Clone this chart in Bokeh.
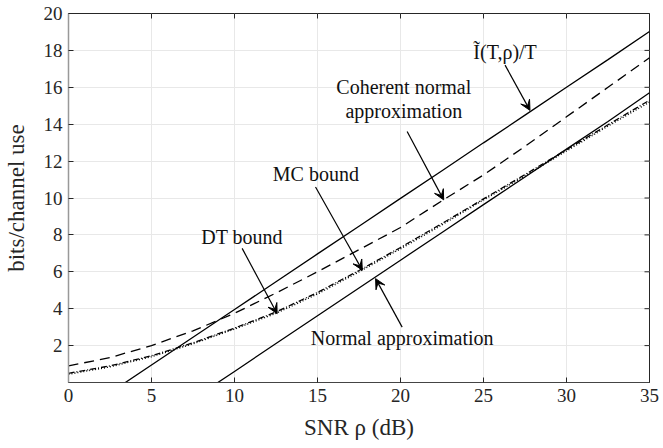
import math
from bokeh.plotting import figure
from bokeh.models import Range1d, FixedTicker, Arrow, VeeHead, Label
from bokeh.embed import file_html
from bokeh.resources import INLINE

# SNR grid (dB)
snr = [0, 2.5, 5, 7.5, 10, 12.5, 15, 17.5, 20, 22.5, 25, 27.5, 30, 32.5, 35]

# I~(T,rho)/T (solid)
i_tilde = [-2.07, -0.56, 0.95, 2.45, 3.96, 5.46, 6.97, 8.47, 9.98, 11.48, 12.99, 14.49, 16.0, 17.5, 19.02]
# Coherent normal approximation (dashed)
coherent = [0.9, 1.35, 2.0, 2.8, 3.75, 4.85, 6.0, 7.2, 8.4, 9.85, 11.25, 12.8, 14.4, 16.0, 17.6]
# MC bound (dash-dot)
mc_bound = [0.5, 0.9, 1.45, 2.15, 2.95, 3.82, 4.88, 6.07, 7.32, 8.62, 9.95, 11.27, 12.62, 13.97, 15.3]
# DT bound (dotted)
dt_bound = [0.45, 0.85, 1.4, 2.1, 2.9, 3.75, 4.8, 6.0, 7.25, 8.55, 9.9, 11.2, 12.55, 13.9, 15.2]
# Normal approximation (solid)
normal = [-5.42, -3.92, -2.41, -0.9, 0.6, 2.11, 3.62, 5.12, 6.63, 8.13, 9.64, 11.14, 12.65, 14.15, 15.7]

x_ticks = [0, 5, 10, 15, 20, 25, 30, 35]
y_ticks = [2, 4, 6, 8, 10, 12, 14, 16, 18, 20]

# annotations: text, text (x, y), arrow tail (x, y), arrow head (x, y)
ann_text = ["Ĩ(T,ρ)/T", "Coherent normal\napproximation", "MC bound", "DT bound", "Normal approximation"]
ann_tx = [26.3, 20.2, 14.9, 10.46, 20.1]
ann_ty = [17.9, 14.1, 11.3, 7.9, 2.43]
tail_x = [26.3, 20.4, 14.88, 10.46, 20.1]
tail_y = [17.2, 13.6, 10.6, 7.27, 3.0]
head_x = [27.8, 22.6, 17.7, 12.57, 18.5]
head_y = [14.75, 9.9, 6.09, 3.73, 5.63]

FONT = "Liberation Serif"
DARK = "#262626"

p = figure(frame_width=581, frame_height=369, output_backend="svg", toolbar_location=None,
           x_range=Range1d(0, 35), y_range=Range1d(0, 20),
           min_border_left=68, min_border_right=14, min_border_top=13, min_border_bottom=66,
           x_axis_label="SNR ρ (dB)", y_axis_label="bits/channel use")
p.outline_line_color = DARK
p.background_fill_color = "white"
p.border_fill_color = "white"

for ax, ticks in ((p.xaxis[0], x_ticks), (p.yaxis[0], y_ticks)):
    ax.ticker = FixedTicker(ticks=ticks)
    ax.major_tick_in = 5
    ax.major_tick_out = 0
    ax.minor_tick_in = 0
    ax.minor_tick_out = 0
    ax.major_label_text_font = FONT
    ax.major_label_text_font_size = "19px"
    ax.major_label_text_color = DARK
    ax.axis_label_text_font = FONT
    ax.axis_label_text_font_size = "23px"
    ax.axis_label_text_font_style = "normal"
    ax.axis_label_text_color = DARK
    ax.major_tick_line_color = DARK

p.xaxis.axis_line_color = "#444444"
p.yaxis.axis_line_color = "#999999"
p.yaxis.axis_line_width = 1.5
p.xaxis.major_label_standoff = 6
p.xaxis.axis_label_standoff = 10
p.yaxis.major_label_standoff = 6
p.yaxis.axis_label_standoff = 12

p.xgrid.ticker = FixedTicker(ticks=x_ticks)
p.ygrid.ticker = FixedTicker(ticks=y_ticks)
p.grid.grid_line_color = "#e8e8e8"
p.grid.grid_line_width = 1

# inward tick marks on the top and right edges of the box (half is clipped by the frame)
p.scatter(x_ticks, [20] * len(x_ticks), marker="dash", angle=math.pi / 2, size=10,
          line_color=DARK, line_width=1)
p.scatter([35] * len(y_ticks), y_ticks, marker="dash", size=10, line_color=DARK, line_width=1)

p.line(snr, i_tilde, line_color="black", line_width=1.3)
p.line(snr, coherent, line_color="black", line_width=1.3, line_dash="10 6")
p.line(snr, mc_bound, line_color="black", line_width=1.3, line_dash="6 2 1 2")
p.line(snr, dt_bound, line_color="black", line_width=1.5, line_dash="1 2")
p.line(snr, normal, line_color="black", line_width=1.3)

for t, tx, ty, ax0, ay0, hx, hy in zip(ann_text, ann_tx, ann_ty, tail_x, tail_y, head_x, head_y):
    p.add_layout(Arrow(x_start=ax0, y_start=ay0, x_end=hx, y_end=hy, line_width=1.2, line_color="black",
                       end=VeeHead(size=10, fill_color="black", line_color="black", line_width=1)))
    p.add_layout(Label(x=tx, y=ty, text=t, text_font=FONT, text_font_size="20px", text_color="#111111",
                       text_align="center", text_baseline="bottom" if "\n" in t else "middle",
                       text_line_height=1.1))

open("out.html", "w").write(file_html(p, INLINE))
